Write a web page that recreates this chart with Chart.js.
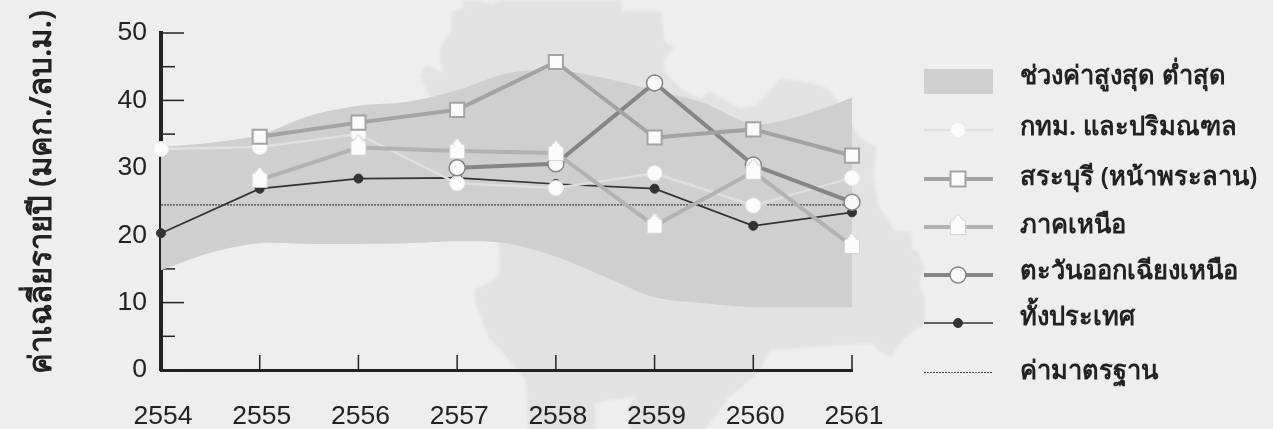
<!DOCTYPE html>
<html>
<head>
<meta charset="utf-8">
<style>
html, body { margin: 0; padding: 0; background: #eeeeee; overflow: hidden; }
#wrap { position: relative; width: 1273px; height: 429px; }
#map { position: absolute; left: 0; top: 0; filter: blur(1px); }
#chart { position: absolute; left: 0; top: 0; }
</style>
<script src="https://cdn.jsdelivr.net/npm/chart.js@4/dist/chart.umd.min.js"></script>
</head>
<body>
<div id="wrap">
<svg id="map" width="1273" height="429">
<path fill="#e2e2e2" stroke="#e2e2e2" stroke-width="3" stroke-linejoin="round" d="M463 -5 L465 10 L453 13 L452 32 L442 47 L442 60 L445 75 L427 67 L422 75 L428 90 L433 97 L470 170 L500 242 L502 273 L493 282 L477 290 L477 303 L490 337 L503 350 L527 380 L530 434 L595 434 L593 403 L610 398 L640 395 L630 405 L632 434 L700 434 L727 397 L743 383 L757 373 L760 367 L770 348 L823 345 L873 342 L880 350 L890 355 L903 337 L923 323 L923 297 L917 283 L923 267 L917 253 L910 250 L910 233 L893 232 L887 220 L877 207 L872 177 L875 147 L860 140 L852 128 L837 103 L827 90 L803 83 L780 80 L770 93 L757 107 L740 110 L727 103 L710 93 L700 100 L680 90 L663 73 L663 58 L672 48 L663 43 L662 33 L660 13 L633 13 L620 12 L620 -5 L513 -5 L500 3 L493 6 L480 3 L473 -5 Z"/>
</svg>
<canvas id="chart" width="1273" height="429"></canvas>
</div>
<script>
// --- datos ---
const years = [2554, 2555, 2556, 2557, 2558, 2559, 2560, 2561];
const yTicks = [0, 5, 10, 15, 20, 25, 30, 35, 40, 45, 50];

const bkk = [32.8, 33.1, 35, 27.7, 27, 29.2, 24.4, 28.5];
const saraburi = [null, 34.6, 36.7, 38.6, 45.7, 34.5, 35.7, 31.8];
const north = [null, 28.2, 33, 32.5, 32.2, 21.4, 29.4, 18.4];
const northeast = [null, null, null, 30, 30.6, 42.6, 30.4, 24.9];
const country = [20.3, 26.9, 28.4, 28.5, 27.6, 26.9, 21.4, 23.4];

// la linea de referencia se corta junto al punto de 2560
const standardYears = [2554, 2559.88, 2560, 2560.14, 2561];
const standard = [24.5, 24.5, null, 24.5, 24.5];

// banda max/min, leida cada medio ano
const bandYears = [2554, 2554.5, 2555, 2555.5, 2556, 2556.5, 2557, 2557.5, 2558, 2558.5, 2559, 2559.5, 2560, 2560.5, 2561];
const bandHigh = [33.1, 33.7, 34.9, 37.7, 39.2, 39.8, 41.5, 44, 44.5, 43.3, 41.5, 39.6, 36.5, 37.8, 40.4];
const bandLow = [14.8, 17.4, 18.8, 18.7, 18.7, 18.8, 19.1, 18.8, 16.8, 13.8, 10.8, 9.9, 9.3, 9.3, 9.3];

const yTitle = 'ค่าเฉลี่ยรายปี (มคก./ลบ.ม.)';
const legendLabels = ['ช่วงค่าสูงสุด ต่ำสุด', 'กทม. และปริมณฑล', 'สระบุรี (หน้าพระลาน)', 'ภาคเหนือ', 'ตะวันออกเฉียงเหนือ', 'ทั้งประเทศ', 'ค่ามาตรฐาน'];

const THAI = '"Noto Sans", "DejaVu Sans", "Liberation Sans", sans-serif';
const INK = '#222222';

function pair(xs, ys) {
    return ys.map((v, i) => ({ x: xs[i], y: v }));
}

// marcador en forma de casita, el cuerpo queda centrado en el punto
function houseMarker() {
    const c = document.createElement('canvas');
    c.width = 18;
    c.height = 30;
    const g = c.getContext('2d');
    g.beginPath();
    g.moveTo(7, 3);
    g.lineTo(11, 3);
    g.lineTo(11, 5.5);
    g.lineTo(13, 5.5);
    g.lineTo(13, 8);
    g.lineTo(15, 8);
    g.lineTo(16.5, 10);
    g.lineTo(16.5, 22.5);
    g.lineTo(1.5, 22.5);
    g.lineTo(1.5, 10);
    g.lineTo(3, 8);
    g.lineTo(5, 8);
    g.lineTo(5, 5.5);
    g.lineTo(7, 5.5);
    g.closePath();
    g.fillStyle = '#fcfcfc';
    g.fill();
    g.strokeStyle = '#d5d5d5';
    g.lineWidth = 1;
    g.stroke();
    return c;
}
const house = houseMarker();

const seriesStyles = [
    { color: '#dfdfdf', width: 2.5, point: 'circle', radius: 7.5, fill: '#fbfbfb', border: '#ececec', bw: 1 },
    { color: '#a3a3a3', width: 4, point: 'rect', radius: 10, fill: '#fbfbfb', border: '#a3a3a3', bw: 2 },
    { color: '#b2b2b2', width: 4, point: house, radius: 8, fill: '#fbfbfb', border: '#d5d5d5', bw: 1 },
    { color: '#858585', width: 4, point: 'circle', radius: 8, fill: '#f9f9f9', border: '#858585', bw: 1.5 },
    { color: '#333333', width: 1.7, point: 'circle', radius: 4.5, fill: '#333333', border: '#333333', bw: 1 }
];

function lineSet(label, values, s, order) {
    return {
        label: label,
        data: pair(years, values),
        borderColor: s.color,
        borderWidth: s.width,
        pointStyle: s.point,
        pointRadius: s.radius,
        pointBackgroundColor: s.fill,
        pointBorderColor: s.border,
        pointBorderWidth: s.bw,
        fill: false,
        tension: 0,
        clip: false,
        order: order
    };
}

// ticks hacia dentro: largos en decenas, cortos en los demas
const axisTicks = {
    id: 'axisTicks',
    beforeDatasetsDraw(chart) {
        const g = chart.ctx;
        const sx = chart.scales.x;
        const sy = chart.scales.y;
        g.save();
        g.strokeStyle = INK;
        g.lineWidth = 1.5;
        yTicks.forEach(v => {
            const py = sy.getPixelForValue(v);
            g.beginPath();
            g.moveTo(sx.left, py);
            g.lineTo(sx.left + (v % 10 === 0 ? 23 : 14), py);
            g.stroke();
        });
        years.slice(1).forEach(v => {
            const px = sx.getPixelForValue(v);
            g.beginPath();
            g.moveTo(px, sy.bottom);
            g.lineTo(px, sy.bottom - 15);
            g.stroke();
        });
        g.restore();
    }
};

// leyenda propia y titulo vertical
const sideText = {
    id: 'sideText',
    afterDraw(chart) {
        const g = chart.ctx;
        g.save();
        g.fillStyle = INK;
        g.font = '600 25.5px ' + THAI;
        g.textBaseline = 'middle';
        g.textAlign = 'left';
        const rowY = [79, 130, 179, 227, 275, 323, 372];
        const textY = [77, 128, 178, 226, 272, 318, 372];
        const left = 924, right = 993, mid = 958, textX = 1020;
        legendLabels.forEach((t, i) => g.fillText(t, textX, textY[i]));

        g.fillStyle = '#cfcfcf';
        g.fillRect(left, 69, right - left, 25);

        seriesStyles.forEach((s, i) => {
            const y = rowY[i + 1];
            g.strokeStyle = s.color;
            g.lineWidth = s.width;
            g.beginPath();
            g.moveTo(left, y);
            g.lineTo(right, y);
            g.stroke();
            g.fillStyle = s.fill;
            g.strokeStyle = s.border;
            g.lineWidth = s.bw;
            if (s.point === 'circle') {
                g.beginPath();
                g.arc(mid, y, s.radius, 0, Math.PI * 2);
                g.fill();
                g.stroke();
            } else if (s.point === 'rect') {
                g.fillRect(mid - 7.5, y - 7.5, 15, 15);
                g.strokeRect(mid - 7.5, y - 7.5, 15, 15);
            } else {
                g.drawImage(s.point, mid - 9, y - 15);
            }
        });

        g.strokeStyle = '#444444';
        g.lineWidth = 1.2;
        g.setLineDash([2, 1]);
        g.beginPath();
        g.moveTo(left, 372.5);
        g.lineTo(right, 372.5);
        g.stroke();
        g.setLineDash([]);

        g.translate(51, 192);
        g.rotate(-Math.PI / 2);
        g.textAlign = 'center';
        g.textBaseline = 'alphabetic';
        g.fillStyle = INK;
        g.font = '600 31px ' + THAI;
        g.fillText(yTitle, 0, 0);
        g.restore();
    }
};

new Chart(document.getElementById('chart'), {
    type: 'line',
    data: {
        datasets: [
            { label: 'low', data: pair(bandYears, bandLow), borderWidth: 0, pointRadius: 0, tension: 0.3, fill: false, order: 20 },
            { label: 'high', data: pair(bandYears, bandHigh), borderWidth: 0, pointRadius: 0, tension: 0.3, fill: '-1', backgroundColor: '#cfcfcf', order: 20 },
            { label: 'standard', data: pair(standardYears, standard), borderColor: '#444444', borderWidth: 1.4, borderDash: [2, 1], pointRadius: 0, fill: false, order: 10 },
            lineSet(legendLabels[5], country, seriesStyles[4], 9),
            lineSet(legendLabels[1], bkk, seriesStyles[0], 8),
            lineSet(legendLabels[4], northeast, seriesStyles[3], 7),
            lineSet(legendLabels[2], saraburi, seriesStyles[1], 6),
            lineSet(legendLabels[3], north, seriesStyles[2], 5)
        ]
    },
    plugins: [axisTicks, sideText],
    options: {
        responsive: false,
        animation: false,
        layout: { padding: { left: 0, right: 421, top: 33, bottom: 0 } },
        plugins: { legend: { display: false }, tooltip: { enabled: false } },
        scales: {
            x: {
                type: 'linear',
                min: 2554,
                max: 2561,
                afterFit(scale) { scale.height = 59; },
                afterBuildTicks(scale) { scale.ticks = years.map(v => ({ value: v })); },
                border: { color: INK, width: 3 },
                grid: { display: false },
                ticks: {
                    color: INK,
                    font: { family: 'Liberation Sans', size: 26.5 },
                    padding: 23,
                    labelOffset: 2,
                    maxRotation: 0,
                    autoSkip: false,
                    callback: v => String(v)
                }
            },
            y: {
                min: 0,
                max: 50,
                afterFit(scale) { scale.width = 161; },
                border: { color: INK, width: 4 },
                grid: { display: false },
                ticks: {
                    stepSize: 10,
                    color: INK,
                    padding: 6,
                    font: { family: 'Liberation Sans', size: 26.5 }
                }
            }
        }
    }
});
</script>
</body>
</html>
